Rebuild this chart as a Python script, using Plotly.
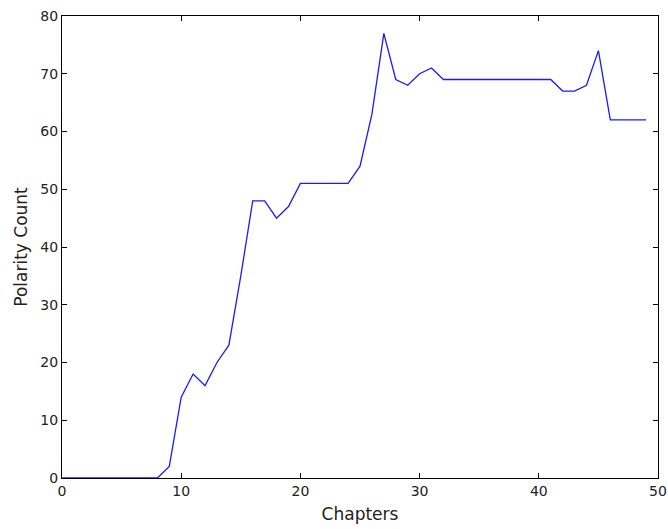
import plotly.graph_objects as go

chapters = list(range(50))
polarity = [0, 0, 0, 0, 0, 0, 0, 0, 0, 2,
            14, 18, 16, 20, 23, 35, 48, 48, 45, 47,
            51, 51, 51, 51, 51, 54, 63, 77, 69, 68,
            70, 71, 69, 69, 69, 69, 69, 69, 69, 69,
            69, 69, 67, 67, 68, 74, 62, 62, 62, 62]

fig = go.Figure()
fig.add_trace(go.Scatter(x=chapters, y=polarity, mode="lines",
                         line=dict(color="#1a1aff", width=1.3)))

axis_common = dict(showgrid=False, zeroline=False, showline=True, linecolor="black",
                   linewidth=1, mirror="allticks", ticks="inside", ticklen=5,
                   tickcolor="black", tickfont=dict(size=14, color="#222222"),
                   automargin=False)

fig.update_layout(
    width=668, height=529,
    margin=dict(l=62, r=10, t=16, b=51),
    plot_bgcolor="white", paper_bgcolor="white",
    font=dict(family="DejaVu Sans", size=14, color="#222222"),
    showlegend=False,
    xaxis=dict(range=[0, 50], tickvals=[0, 10, 20, 30, 40, 50],
               title=dict(text="Chapters", standoff=10), **axis_common),
    yaxis=dict(range=[0, 80], tickvals=[0, 10, 20, 30, 40, 50, 60, 70, 80],
               title=dict(text="Polarity Count", standoff=8), **axis_common),
)

fig.write_html("out.html", config={"displayModeBar": False},
               post_script="document.body.style.margin='0';document.body.style.overflow='hidden';")
